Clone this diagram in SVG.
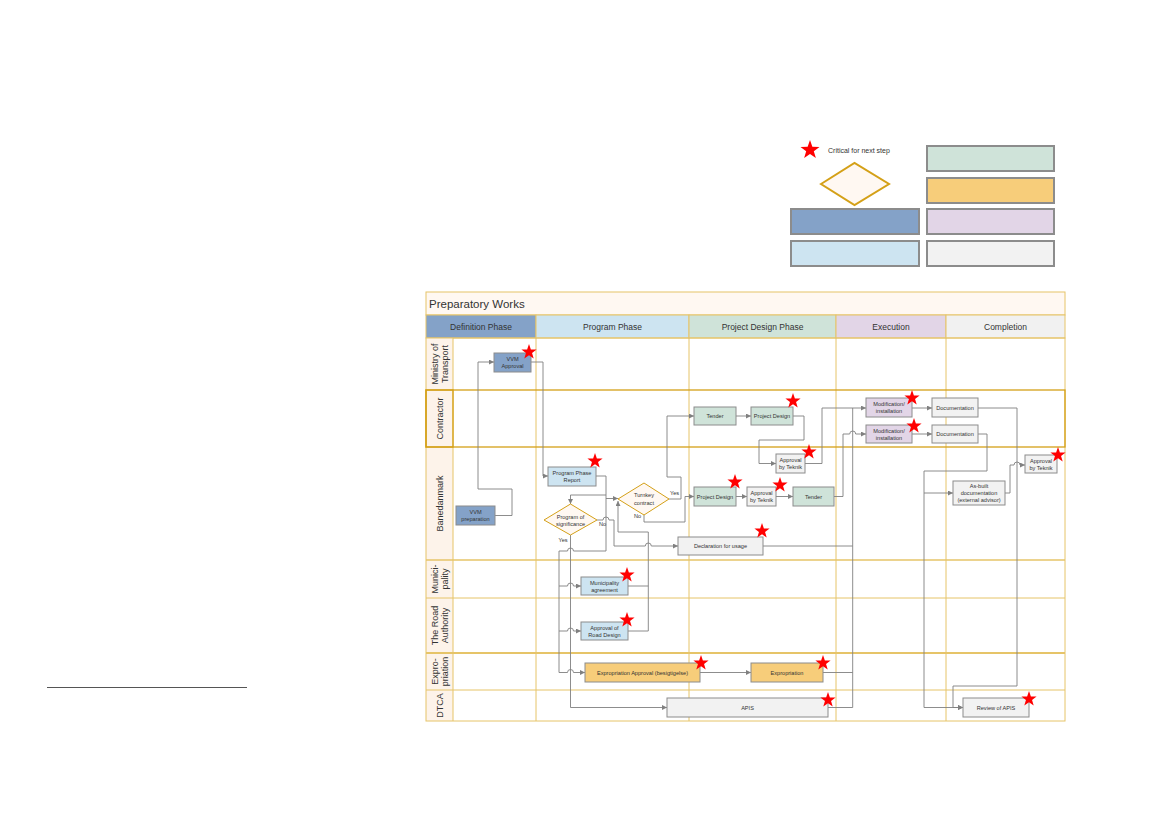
<svg xmlns="http://www.w3.org/2000/svg" xmlns:xlink="http://www.w3.org/1999/xlink" width="1169" height="827" viewBox="0 0 1169 827">
<style>
.t{font-family:"Liberation Sans",Arial,sans-serif;fill:#333;text-anchor:middle;}
.n{font-size:5.6px;}
.h{font-size:8.5px;}
.l{font-size:9px;}
.grid{stroke:#e6c468;stroke-width:1;fill:none;}
.box{stroke:#8c8c8c;stroke-width:1;}
.lg{stroke:#8c8c8c;stroke-width:2;}
.c{fill:none;stroke:#808080;stroke-width:0.9;}
.ca{fill:none;stroke:#808080;stroke-width:0.9;marker-end:url(#ah);}
.blue{fill:#84a2c8;}
.lblue{fill:#cde4f1;}
.green{fill:#cfe3d9;}
.purple{fill:#e2d5e7;}
.gray{fill:#f2f2f2;}
.orange{fill:#f7cd7a;}
.dia{fill:#fff8f2;stroke:#d4a017;stroke-width:1;}
.star{fill:#ff0000;}
</style>
<defs>
<marker id="ah" viewBox="0 0 6 6" refX="6" refY="3" markerWidth="5" markerHeight="5" markerUnits="userSpaceOnUse" orient="auto"><path d="M0,0 L6,3 L0,6 z" fill="#808080"/></marker>
<polygon id="star" class="star" points="0,-8 1.88,-2.59 7.61,-2.47 3.04,0.99 4.7,6.47 0,3.2 -4.7,6.47 -3.04,0.99 -7.61,-2.47 -1.88,-2.59"/>
</defs>
<rect width="1169" height="827" fill="#ffffff"/>

<!-- left rule -->
<line x1="47" y1="687.5" x2="247" y2="687.5" stroke="#555" stroke-width="1.2"/>

<!-- legend -->
<g id="legend">
<use xlink:href="#star" href="#star" transform="translate(810,150) scale(1.25)"/>
<text class="t" x="828" y="152.5" style="font-size:7px;text-anchor:start">Critical for next step</text>
<polygon points="821,184 854.5,163 889,184 854.5,205" fill="#fff8f2" stroke="#d4a017" stroke-width="2"/>
<rect class="lg green" x="927" y="146" width="127" height="25"/>
<rect class="lg orange" x="927" y="178" width="127" height="25"/>
<rect class="lg purple" x="927" y="209" width="127" height="25"/>
<rect class="lg gray" x="927" y="241" width="127" height="25"/>
<rect class="lg blue" x="791" y="209" width="128" height="25"/>
<rect class="lg lblue" x="791" y="241" width="128" height="25"/>
</g>

<!-- swimlane frame -->
<g id="frame">
<rect x="426" y="292" width="639" height="23" fill="#fff8f2" stroke="#e6c468"/>
<text class="t" x="429" y="307.5" style="font-size:11.5px;text-anchor:start">Preparatory Works</text>
<rect x="426" y="315" width="110" height="23" fill="#84a2c8" stroke="#e6c468"/>
<rect x="536" y="315" width="153" height="23" fill="#cde4f1" stroke="#e6c468"/>
<rect x="689" y="315" width="147" height="23" fill="#cfe3d9" stroke="#e6c468"/>
<rect x="836" y="315" width="110" height="23" fill="#e2d5e7" stroke="#e6c468"/>
<rect x="946" y="315" width="119" height="23" fill="#f1f1f1" stroke="#e6c468"/>
<text class="t h" x="481" y="329.5">Definition Phase</text>
<text class="t h" x="612.5" y="329.5">Program Phase</text>
<text class="t h" x="762.5" y="329.5">Project Design Phase</text>
<text class="t h" x="891" y="329.5">Execution</text>
<text class="t h" x="1005.5" y="329.5">Completion</text>
<rect x="426" y="338" width="27" height="383" fill="#fdf3ea"/>
<rect class="grid" x="426" y="338" width="639" height="383"/>
<line class="grid" x1="453" y1="338" x2="453" y2="721"/>
<line class="grid" x1="536" y1="338" x2="536" y2="721"/>
<line class="grid" x1="689" y1="338" x2="689" y2="721"/>
<line class="grid" x1="836" y1="338" x2="836" y2="721"/>
<line class="grid" x1="946" y1="338" x2="946" y2="721"/>
<line class="grid" x1="426" y1="560" x2="1065" y2="560" style="stroke-width:1.3"/>
<line class="grid" x1="426" y1="598" x2="1065" y2="598"/>
<line class="grid" x1="426" y1="653" x2="1065" y2="653" style="stroke-width:1.8"/>
<line class="grid" x1="426" y1="690" x2="1065" y2="690"/>
<rect x="426" y="390" width="639" height="57" fill="none" stroke="#d4a017" stroke-width="1.3"/>
<rect x="426" y="390" width="27" height="57" fill="none" stroke="#d4a017" stroke-width="1.3"/>
<text class="t l" transform="translate(438,364) rotate(-90)">Ministry of</text>
<text class="t l" transform="translate(448,364) rotate(-90)">Transport</text>
<text class="t l" transform="translate(443,418.5) rotate(-90)">Contractor</text>
<text class="t l" transform="translate(443,503.5) rotate(-90)">Banedanmark</text>
<text class="t l" transform="translate(438,579) rotate(-90)">Munici-</text>
<text class="t l" transform="translate(448,579) rotate(-90)">pality</text>
<text class="t l" transform="translate(438,625.5) rotate(-90)">The Road</text>
<text class="t l" transform="translate(448,625.5) rotate(-90)">Authority</text>
<text class="t l" transform="translate(438,671.5) rotate(-90)">Expro-</text>
<text class="t l" transform="translate(448,671.5) rotate(-90)">priation</text>
<text class="t l" transform="translate(443,705.5) rotate(-90)">DTCA</text>
</g>

<!-- connectors -->
<g id="connectors">
<path class="ca" d="M495,515.5 H512 V489 H478 V362 H494"/>
<path class="ca" d="M531,362 H543 V476 H548"/>
<path class="ca" d="M596,476 H606 V551 H573.5 a3,3 0 0 0 -6,0 H559 V672.5 H567.5 a3,3 0 0 1 6,0 H585"/>
<path class="ca" d="M559,586 H567.5 a3,3 0 0 1 6,0 H581"/>
<path class="ca" d="M559,631 H567.5 a3,3 0 0 1 6,0 H581"/>
<path class="ca" d="M606,498.5 H618"/>
<path class="ca" d="M606,495 H570.5 V504"/>
<path class="ca" d="M570.5,535 V707.5 H667"/>
<path class="ca" d="M597,520 H603 a3,3 0 0 1 6,0 H614 V546 H645.3 a3,3 0 0 1 6,0 H678"/>
<path class="ca" d="M628,631 H648.3 V532 H618 V501"/>
<path class="c" d="M628,586 H648.3"/>
<path class="ca" d="M669,499 H681 V477 H667 V416 H694"/>
<path class="ca" d="M644,515 V522 H685 V496.5 H694"/>
<path class="ca" d="M736,416 H751"/>
<path class="ca" d="M793,416 H804 V440 H759 V463.5 H776"/>
<path class="ca" d="M805,463.5 H822 V408 H866"/>
<path class="ca" d="M736,496.5 H747"/>
<path class="ca" d="M776,496.5 H793"/>
<path class="ca" d="M834,496.5 H843 V434 H849.7 a3,3 0 0 1 6,0 H866"/>
<path class="c" d="M763,546 H852.7 V408"/>
<path class="ca" d="M700,672.5 H751"/>
<path class="c" d="M823,672.5 H852.7"/>
<path class="c" d="M828,707.5 H852.7 V546"/>
<path class="ca" d="M912,408 H932"/>
<path class="ca" d="M912,434 H932"/>
<path class="ca" d="M978,408 H1017 V686 H953 V707.5 H963"/>
<path class="ca" d="M978,434 H987 V471 H924 V707.5 H963"/>
<path class="ca" d="M924,493 H953"/>
<path class="ca" d="M1005,493 H1010 V465 H1014 a3,3 0 0 1 6,0 H1025"/>
<text class="t n" x="599" y="525.5" style="text-anchor:start">No</text>
<text class="t n" x="563" y="541.5">Yes</text>
<text class="t n" x="670" y="495" style="text-anchor:start">Yes</text>
<text class="t n" x="637.5" y="518">No</text>
</g>

<!-- nodes -->
<g id="vvm-approval"><rect class="box blue" x="494" y="353" width="37" height="19"/><text class="t n" x="512.5" y="361">VVM</text><text class="t n" x="512.5" y="368">Approval</text><use href="#star" xlink:href="#star" x="529" y="352"/></g>
<g id="vvm-preparation"><rect class="box blue" x="456" y="506" width="39" height="19"/><text class="t n" x="475.5" y="514">VVM</text><text class="t n" x="475.5" y="521">preparation</text></g>
<g id="program-phase-report"><rect class="box lblue" x="548" y="467" width="48" height="19"/><text class="t n" x="572" y="475">Program Phase</text><text class="t n" x="572" y="482">Report</text><use href="#star" xlink:href="#star" x="595" y="461"/></g>
<g id="program-of-significance"><polygon class="dia" points="544,520 570.5,504 597,520 570.5,535"/><text class="t n" x="570.5" y="518.5">Program of</text><text class="t n" x="570.5" y="525.5">significance</text></g>
<g id="turnkey-contract"><polygon class="dia" points="618,499 644,483 669,499 644,515"/><text class="t n" x="644" y="497">Turnkey</text><text class="t n" x="644" y="504.5">contract</text></g>
<g id="tender-contractor"><rect class="box green" x="694" y="407" width="42" height="18"/><text class="t n" x="715" y="418">Tender</text></g>
<g id="project-design-contractor"><rect class="box green" x="751" y="407" width="42" height="18"/><text class="t n" x="772" y="418">Project Design</text><use href="#star" xlink:href="#star" x="793" y="401"/></g>
<g id="approval-teknik-contractor"><rect class="box gray" x="776" y="454" width="29" height="19"/><text class="t n" x="790.5" y="462">Approval</text><text class="t n" x="790.5" y="469">by Teknik</text><use href="#star" xlink:href="#star" x="809" y="452"/></g>
<g id="project-design-bdk"><rect class="box green" x="694" y="487" width="42" height="19"/><text class="t n" x="715" y="498.5">Project Design</text><use href="#star" xlink:href="#star" x="735" y="482"/></g>
<g id="approval-teknik-bdk"><rect class="box gray" x="747" y="487" width="29" height="19"/><text class="t n" x="761.5" y="495">Approval</text><text class="t n" x="761.5" y="502">by Teknik</text><use href="#star" xlink:href="#star" x="780" y="485"/></g>
<g id="tender-bdk"><rect class="box green" x="793" y="487" width="41" height="19"/><text class="t n" x="813.5" y="498.5">Tender</text></g>
<g id="declaration-for-usage"><rect class="box gray" x="678" y="537" width="85" height="18"/><text class="t n" x="720.5" y="548">Declaration for usage</text><use href="#star" xlink:href="#star" x="762" y="531"/></g>
<g id="modification-1"><rect class="box purple" x="866" y="398" width="46" height="19"/><text class="t n" x="889" y="406">Modification/</text><text class="t n" x="889" y="413">installation</text><use href="#star" xlink:href="#star" x="912" y="398"/></g>
<g id="documentation-1"><rect class="box gray" x="932" y="398" width="46" height="19"/><text class="t n" x="955" y="409.5">Documentation</text></g>
<g id="modification-2"><rect class="box purple" x="866" y="425" width="46" height="18"/><text class="t n" x="889" y="432.5">Modification/</text><text class="t n" x="889" y="439.5">installation</text><use href="#star" xlink:href="#star" x="914" y="426"/></g>
<g id="documentation-2"><rect class="box gray" x="932" y="425" width="46" height="18"/><text class="t n" x="955" y="436">Documentation</text></g>
<g id="approval-teknik-completion"><rect class="box gray" x="1025" y="455" width="32" height="18"/><text class="t n" x="1041" y="462.5">Approval</text><text class="t n" x="1041" y="469.5">by Teknik</text><use href="#star" xlink:href="#star" x="1058" y="455"/></g>
<g id="as-built-documentation"><rect class="box gray" x="953" y="481" width="52" height="24"/><text class="t n" x="979" y="488">As-built</text><text class="t n" x="979" y="495">documentation</text><text class="t n" x="979" y="502">(external advisor)</text></g>
<g id="municipality-agreement"><rect class="box lblue" x="581" y="577" width="47" height="18"/><text class="t n" x="604.5" y="584.5">Municipality</text><text class="t n" x="604.5" y="591.5">agreement</text><use href="#star" xlink:href="#star" x="627" y="575"/></g>
<g id="approval-road-design"><rect class="box lblue" x="581" y="622" width="47" height="18"/><text class="t n" x="604.5" y="629.5">Approval of</text><text class="t n" x="604.5" y="636.5">Road Design</text><use href="#star" xlink:href="#star" x="627" y="620"/></g>
<g id="expropriation-approval"><rect class="box orange" x="585" y="663" width="115" height="19"/><text class="t n" x="642.5" y="674.5">Expropriation Approval (besigtigelse)</text><use href="#star" xlink:href="#star" x="701" y="663"/></g>
<g id="expropriation"><rect class="box orange" x="751" y="663" width="72" height="19"/><text class="t n" x="787" y="674.5">Expropriation</text><use href="#star" xlink:href="#star" x="823" y="663"/></g>
<g id="apis"><rect class="box gray" x="667" y="698" width="161" height="19"/><text class="t n" x="747.5" y="709.5">APIS</text><use href="#star" xlink:href="#star" x="828" y="700"/></g>
<g id="review-of-apis"><rect class="box gray" x="963" y="698" width="66" height="19"/><text class="t n" x="996" y="709.5">Review of APIS</text><use href="#star" xlink:href="#star" x="1029" y="699"/></g>
</svg>
